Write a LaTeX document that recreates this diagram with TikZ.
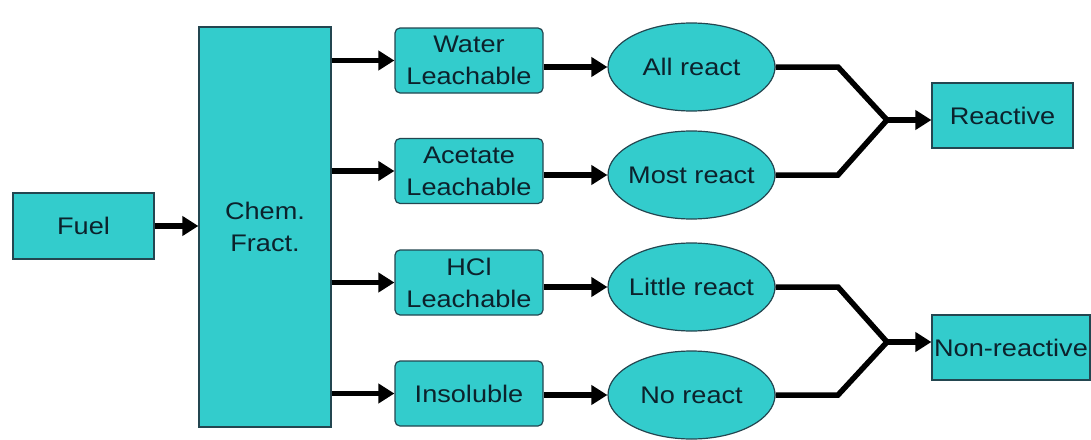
\documentclass[tikz,border=0pt]{standalone}
\usepackage{fontspec}
\setmainfont{Liberation Sans}[FakeStretch=1.13]
\usetikzlibrary{arrows.meta,shapes.geometric}
\definecolor{fillc}{RGB}{51,204,204}
\definecolor{txtc}{RGB}{12,34,44}
\definecolor{edgec}{RGB}{35,70,80}
\newcommand\ztext[1]{\makebox[0pt]{#1}}
\begin{document}
\begin{tikzpicture}[x=1pt,y=-1pt,
  box/.style={draw=edgec, line width=1.2pt, fill=fillc, text=txtc,
    font=\fontsize{24}{32}\selectfont, align=center, inner sep=0pt},
  sqbox/.style={box, rectangle},
  rbox/.style={box, rectangle, rounded corners=5pt, minimum width=148pt, minimum height=65pt},
  ebox/.style={box, ellipse, minimum width=167pt, minimum height=88pt},
  conn/.style={line width=5.5pt, black, line join=miter},
  arr/.style={conn, -{Triangle[length=16pt,width=19pt]}}
]
\useasboundingbox (0,0) rectangle (1091,439);
% nodes
\node[sqbox, minimum width=141pt, minimum height=66pt] (fuel) at (83.5,226) {Fuel};
\node[sqbox, minimum width=132pt, minimum height=400pt] (chem) at (265,227) {Chem.\\Fract.};
\node[rbox] (l1) at (469,60.5) {Water\\Leachable};
\node[rbox] (l2) at (469,171) {Acetate\\Leachable};
\node[rbox] (l3) at (469,282.5) {HCl\\Leachable};
\node[rbox] (l4) at (469,393.5) {Insoluble};
\node[ebox] (e1) at (691.5,67) {\ztext{All react}};
\node[ebox] (e2) at (691.5,175) {\ztext{Most react}};
\node[ebox] (e3) at (691.5,287) {\ztext{Little react}};
\node[ebox] (e4) at (691.5,395) {\ztext{No react}};
\node[sqbox, minimum width=141pt, minimum height=65pt] (r) at (1002.5,115.5) {Reactive};
\node[sqbox, minimum width=158pt, minimum height=65pt] (nr) at (1011,347.5) {Non-reactive};
% junctions
\coordinate (j1) at (887,120);
\coordinate (j2) at (887,342);
% connectors
\draw[arr] (fuel.east) -- (chem.west |- fuel.east);
\foreach \i in {1,2,3,4}{
  \draw[arr] (chem.east |- l\i.west) -- (l\i.west);
  \draw[arr] (l\i.east |- e\i.west) -- (e\i.west);
}
\draw[conn] (e1.east) -- (838,67) -- (j1) -- (838,175) -- (e2.east);
\draw[conn] (e3.east) -- (838,287) -- (j2) -- (838,395) -- (e4.east);
\draw[arr] (j1) -- (r.west |- j1);
\draw[arr] (j2) -- (nr.west |- j2);
\end{tikzpicture}
\end{document}
